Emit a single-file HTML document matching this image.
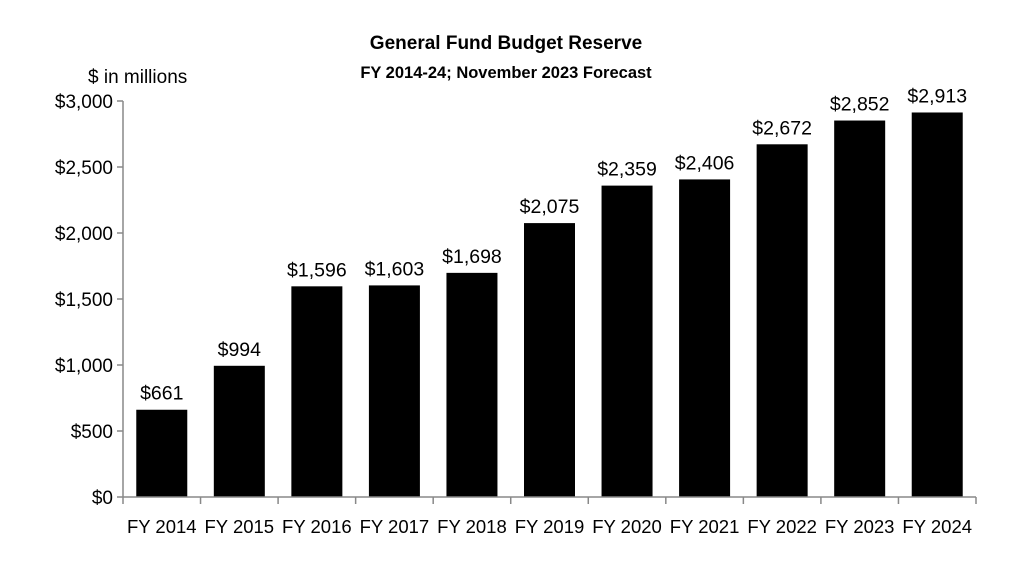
<!DOCTYPE html>
<html><head><meta charset="utf-8"><style>
body{margin:0;background:#fff;}
svg{display:block;font-family:"Liberation Sans",sans-serif;}
</style></head><body>
<svg id="chart" width="1024" height="570">
<text x="506" y="49" text-anchor="middle" font-size="19" font-weight="bold">General Fund Budget Reserve</text>
<text x="506" y="78" text-anchor="middle" font-size="16.5" font-weight="bold">FY 2014-24; November 2023 Forecast</text>
<text x="88" y="83" font-size="19">$ in millions</text>
<g id="plot"></g>
</svg>
<script>
const categories=["FY 2014","FY 2015","FY 2016","FY 2017","FY 2018","FY 2019","FY 2020","FY 2021","FY 2022","FY 2023","FY 2024"];
const values=[661,994,1596,1603,1698,2075,2359,2406,2672,2852,2913];
const yTicks=[0,500,1000,1500,2000,2500,3000];
const yTickLabels=["$0","$500","$1,000","$1,500","$2,000","$2,500","$3,000"];
const NS="http://www.w3.org/2000/svg";
const g=document.getElementById('plot');
const x0=123,x1=976,y0=497,yTop=101,yMax=3000;
const band=(x1-x0)/categories.length;
const y=v=>y0-(v/yMax)*(y0-yTop);
const xs=i=>x0+band*i;
function mk(t,a){const e=document.createElementNS(NS,t);for(const k in a)e.setAttribute(k,a[k]);g.appendChild(e);return e;}
yTicks.forEach((t,i)=>{
 const l=mk('line',{x1:x0-6,x2:x0,y1:y(t),y2:y(t),stroke:'#888','stroke-width':1.5});
 
 
 const tx=mk('text',{x:x0-10,y:y(t)+7,'text-anchor':'end','font-size':19});
 tx.textContent=yTickLabels[i];
 
 
});
categories.forEach((c,i)=>{
 const bw=51, bx=xs(i)+(band-bw)/2;
 const r=mk('rect',{x:bx,y:y(values[i]),width:bw,height:y0-y(values[i]),fill:'#000'});
 
 
 const v=mk('text',{x:bx+bw/2,y:y(values[i])-10,'text-anchor':'middle','font-size':19.5});
 v.textContent='$'+values[i].toLocaleString('en-US');
 
 
 const cl=mk('text',{x:xs(i)+band/2,y:533,'text-anchor':'middle','font-size':18.5});
 cl.textContent=c;
 
 
});
for(let i=0;i<=categories.length;i++){
 const t=mk('line',{x1:xs(i),x2:xs(i),y1:y0,y2:y0+7,stroke:'#888','stroke-width':1.5});
 
 
}
const ya=mk('line',{x1:x0,x2:x0,y1:yTop,y2:y0,stroke:'#888','stroke-width':1.5});


const xa=mk('line',{x1:x0,x2:x1,y1:y0,y2:y0,stroke:'#888','stroke-width':1.5});


</script>
</body></html>
